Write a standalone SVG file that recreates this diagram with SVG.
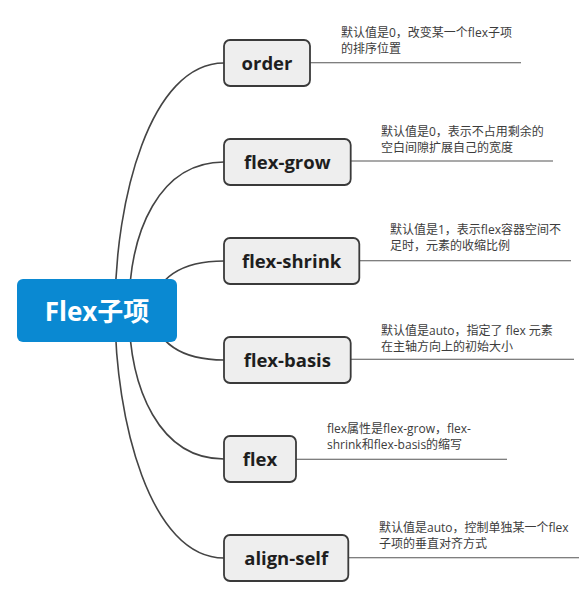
<svg xmlns="http://www.w3.org/2000/svg" width="579" height="600" viewBox="0 0 579 600">
<style>
.conn{fill:none;stroke:#444;stroke-width:1.6}
.rule{fill:none;stroke:#555;stroke-width:1.1}
.box{fill:#eeeeee;stroke:#3a3a3a;stroke-width:1.8}
.lbl{font-family:"Open Sans","Noto Sans CJK SC",sans-serif;font-weight:bold;font-size:18.5px;fill:#1e1e1e;text-anchor:middle}
.desc{font-family:"Open Sans","Noto Sans CJK SC",sans-serif;font-size:12px;fill:#3c3c3c}
.root{fill:#0A89D2}
.rootlbl{font-family:"Open Sans","Noto Sans CJK SC",sans-serif;font-weight:bold;font-size:26px;fill:#ffffff;text-anchor:middle}
</style>
<rect width="579" height="600" fill="#ffffff"/>
<g id="connectors">
<path class="conn" d="M115,310 C115,200 150,63 224,63"/>
<path class="conn" d="M129,310 C129,230 160,162 224,162"/>
<path class="conn" d="M150,310 Q160,261 224,261"/>
<path class="conn" d="M150,310 Q160,360 224,360"/>
<path class="conn" d="M129,310 C129,390 160,459 224,459"/>
<path class="conn" d="M115,310 C115,420 150,558 224,558"/>
<path class="rule" d="M310,62.7 H521"/>
<path class="rule" d="M350.7,161 H553"/>
<path class="rule" d="M359.3,260.7 H571"/>
<path class="rule" d="M350.7,359.3 H574"/>
<path class="rule" d="M296,459.3 H507"/>
<path class="rule" d="M348.3,557.7 H579"/>
</g>
<g id="root">
<rect class="root" x="17" y="279" width="160" height="63" rx="6"/>
<text class="rootlbl" x="97" y="321">Flex子项</text>
</g>
<g id="order">
<rect class="box" x="224" y="40" width="86" height="46" rx="6"/>
<text class="lbl" x="267" y="69.5">order</text>
<text class="desc" x="341" y="37">默认值是0，改变某一个flex子项</text>
<text class="desc" x="341" y="53">的排序位置</text>
</g>
<g id="flex-grow">
<rect class="box" x="224" y="139" width="126.7" height="46" rx="6"/>
<text class="lbl" x="287.3" y="168.5">flex-grow</text>
<text class="desc" x="381" y="135.5">默认值是0，表示不占用剩余的</text>
<text class="desc" x="381" y="151.5">空白间隙扩展自己的宽度</text>
</g>
<g id="flex-shrink">
<rect class="box" x="224" y="238" width="135.3" height="46" rx="6"/>
<text class="lbl" x="291.6" y="267.5">flex-shrink</text>
<text class="desc" x="390" y="234.2">默认值是1，表示flex容器空间不</text>
<text class="desc" x="390" y="250.2">足时，元素的收缩比例</text>
</g>
<g id="flex-basis">
<rect class="box" x="224" y="337" width="126.7" height="46" rx="6"/>
<text class="lbl" x="287.3" y="366.5">flex-basis</text>
<text class="desc" x="381" y="334.8">默认值是auto，指定了 flex 元素</text>
<text class="desc" x="381" y="350.8">在主轴方向上的初始大小</text>
</g>
<g id="flex">
<rect class="box" x="224" y="436" width="72" height="46" rx="6"/>
<text class="lbl" x="260" y="465.5">flex</text>
<text class="desc" x="327" y="433.2">flex属性是flex-grow，flex-</text>
<text class="desc" x="327" y="449.2">shrink和flex-basis的缩写</text>
</g>
<g id="align-self">
<rect class="box" x="224" y="535" width="124.3" height="46" rx="6"/>
<text class="lbl" x="286.2" y="564.5">align-self</text>
<text class="desc" x="379" y="531.5">默认值是auto，控制单独某一个flex</text>
<text class="desc" x="379" y="547.5">子项的垂直对齐方式</text>
</g>
</svg>
